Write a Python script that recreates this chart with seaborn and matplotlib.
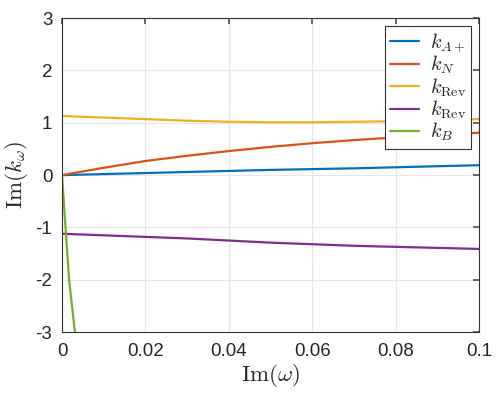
import numpy as np
import pandas as pd
import matplotlib
matplotlib.use('Agg')
import matplotlib.pyplot as plt
import seaborn as sns

# values
w_main      = [0.0, 0.01, 0.02, 0.03, 0.04, 0.05, 0.06, 0.07, 0.08, 0.09, 0.1]
k_a_plus    = [0.0, 0.02, 0.04, 0.06, 0.08, 0.10, 0.115, 0.13, 0.15, 0.17, 0.19]
k_n         = [0.0, 0.14, 0.27, 0.37, 0.46, 0.54, 0.61, 0.67, 0.72, 0.77, 0.81]
k_rev_up    = [1.13, 1.10, 1.07, 1.04, 1.02, 1.01, 1.01, 1.02, 1.03, 1.05, 1.07]
k_rev_down  = [-1.12, -1.15, -1.18, -1.21, -1.25, -1.29, -1.32, -1.35, -1.37, -1.39, -1.41]
w_b         = [0.0, 0.0017, 0.0031, 0.004]
k_b         = [0.0, -2.0, -3.0, -3.9]

labels = [r'$k_{A+}$', r'$k_N$', r'$k_{\mathrm{Rev}}$', r'$k_{\mathrm{Rev}}$', r'$k_B$']
colors = ['#0072BD', '#D95319', '#EDB120', '#7E2F8E', '#77AC30']

sns.set_theme(style='whitegrid')
plt.rcParams['font.family'] = ['Liberation Sans', 'DejaVu Sans']
plt.rcParams['mathtext.fontset'] = 'cm'
plt.rcParams['axes.unicode_minus'] = False

fig = plt.figure(figsize=(4.98, 3.94), dpi=100)
ax = fig.add_axes([0.1245, 0.157, 0.8375, 0.797])

series = [(w_main, k_a_plus), (w_main, k_n), (w_main, k_rev_up), (w_main, k_rev_down), (w_b, k_b)]
for (xs, ys), lab, col in zip(series, labels, colors):
    df = pd.DataFrame({'w': xs, 'k': ys})
    sns.lineplot(data=df, x='w', y='k', ax=ax, color=col, label=lab, linewidth=1.6, sort=False)

ax.set_xlim(0, 0.1)
ax.set_ylim(-3, 3)
ax.set_xticks([0, 0.02, 0.04, 0.06, 0.08, 0.1])
ax.set_xticklabels(['0', '0.02', '0.04', '0.06', '0.08', '0.1'])
ax.set_yticks([-3, -2, -1, 0, 1, 2, 3])
ax.set_yticklabels(['-3', '-2', '-1', '0', '1', '2', '3'])
ax.tick_params(labelsize=13.5, direction='in', length=4, color='#555555', top=True, right=True)
ax.tick_params(axis='x', pad=8)
ax.tick_params(axis='y', pad=7)
ax.set_xlabel(r'$\mathrm{Im}(\omega)$', fontsize=16.5, labelpad=1)
ax.set_ylabel(r'$\mathrm{Im}(k_\omega)$', fontsize=16.5, labelpad=4)

ax.set_facecolor('white')
ax.grid(True, color='#e6e6e6', linewidth=0.8)
for s in ax.spines.values():
    s.set_color('#333333')
    s.set_linewidth(0.8)

leg = ax.legend(loc='upper right', fontsize=14.5, frameon=True, fancybox=False,
                edgecolor='#333333', framealpha=1, borderaxespad=0.4,
                handlelength=1.4, labelspacing=0.0, borderpad=0.25, handletextpad=0.55)
leg.get_frame().set_linewidth(0.8)

fig.savefig('out.png', dpi=100)
